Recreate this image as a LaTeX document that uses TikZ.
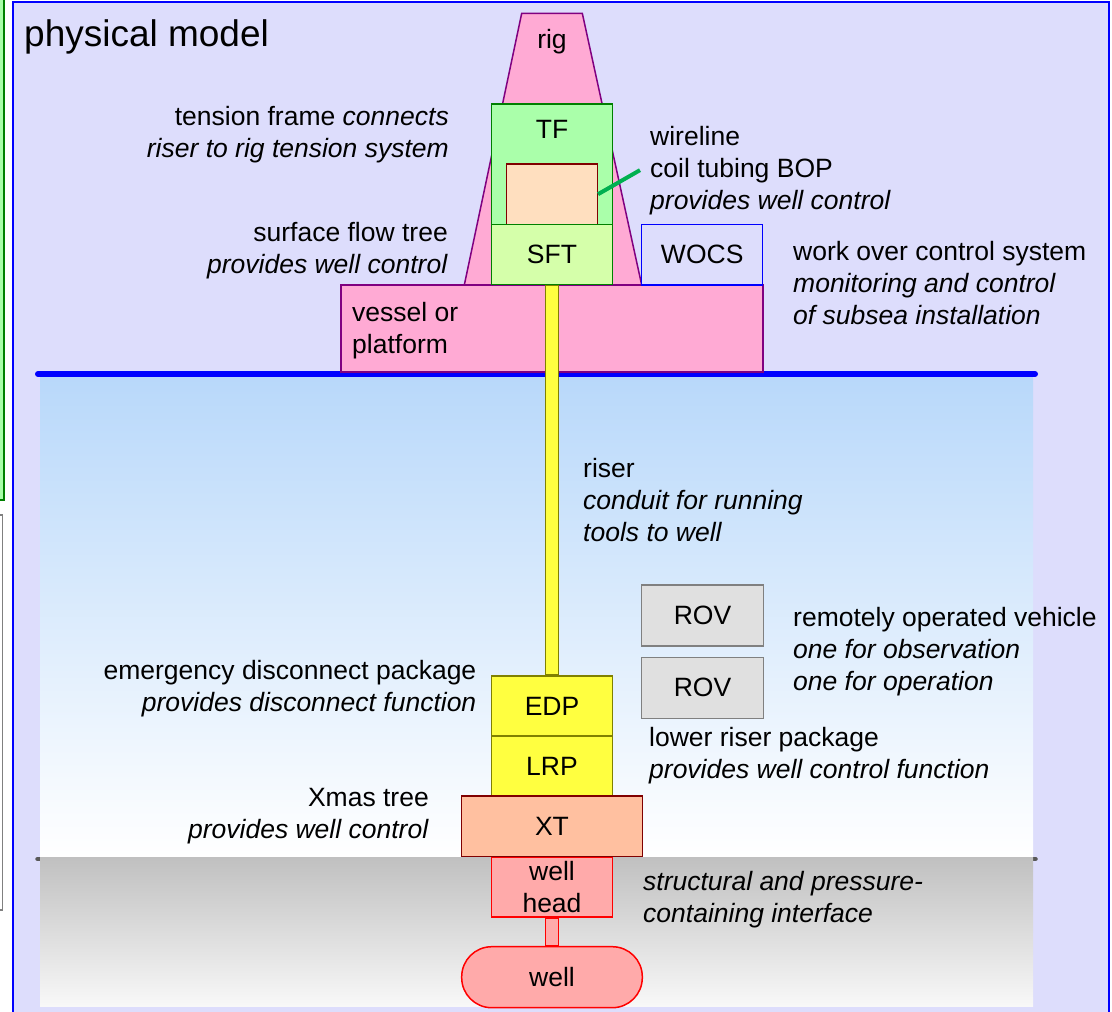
\documentclass[tikz,border=0pt]{standalone}
\usepackage{fontspec}
\setmainfont{Liberation Sans}
\usetikzlibrary{calc}

\definecolor{lavender}{RGB}{221,221,252}
\definecolor{seablue}{RGB}{184,216,250}
\definecolor{seabedtop}{RGB}{192,192,192}
\definecolor{seabedlow}{RGB}{248,248,248}
\definecolor{rigpink}{RGB}{255,170,212}
\definecolor{rigpurple}{RGB}{128,0,128}
\definecolor{tfgreen}{RGB}{170,255,170}
\definecolor{sftgreen}{RGB}{213,255,170}
\definecolor{darkgreen}{RGB}{0,128,0}
\definecolor{bopfill}{RGB}{255,223,191}
\definecolor{darkred}{RGB}{128,0,0}
\definecolor{pipeyellow}{RGB}{255,255,64}
\definecolor{pipeolive}{RGB}{128,128,0}
\definecolor{xtfill}{RGB}{255,192,160}
\definecolor{wellfill}{RGB}{255,170,170}
\definecolor{rovgray}{RGB}{224,224,224}
\definecolor{linkgreen}{RGB}{0,176,80}

\newcommand{\lblfont}{\fontsize{26.5}{32}\selectfont}
\newcommand{\titlefont}{\fontsize{37}{44}\selectfont}

\tikzset{
    part/.style={draw, line width=1.5pt, inner sep=0pt, font=\lblfont, align=center},
    txt/.style={inner sep=0pt, font=\lblfont},
    stack/.style={part, minimum width=120.6pt, minimum height=60.4pt},
}

\begin{document}
\begin{tikzpicture}[x=1pt, y=-1pt]
        \useasboundingbox (0,0) rectangle (1112,1012);
        \clip (0,0) rectangle (1112,1012);
        \draw[darkgreen, line width=2pt, fill=tfgreen] (-20,-20) rectangle (3.5,500);
        \draw[gray, line width=1.5pt, fill=white] (-20,515) rectangle (2.5,910);
        \draw[blue, line width=2pt, fill=lavender] (13.3,2) rectangle (1109.3,1040);
        \node[anchor=base west, inner sep=0pt, font=\titlefont] (title) at (24,46) {physical model};

        \shade[top color=seablue, bottom color=white] (40,375) rectangle (1033,857);
        \draw[black!65, line width=4.5pt, line cap=round] (37.5,859) -- (1035.5,859);
        \shade[top color=seabedtop, bottom color=seabedlow] (40,857) rectangle (1033,1006);
        \draw[blue, line width=6pt, line cap=round] (38,374) -- (1035,374);

        \draw[rigpurple, line width=1.5pt, fill=rigpink] (521.7,13.3) -- (582.3,13.3) -- (641.7,285) -- (464.3,285) -- cycle;
        \node[txt, anchor=base] (rig) at (552,48) {rig};
        \node[part, draw=rigpurple, fill=rigpink, minimum width=421.7pt, minimum height=87pt] (vessel) at (551.9,328.5) {};
        \node[txt, anchor=base west, align=left] (vessellbl) at (352,353) {vessel or\\platform};

        \node[part, draw=darkgreen, fill=tfgreen, minimum width=120.6pt, minimum height=120.3pt] (TF) at (552,164.2) {};
        \node[txt, anchor=base] (TFlbl) at (552,138) {TF};
        \node[part, draw=darkred, fill=bopfill, minimum width=90.6pt, minimum height=60.3pt] (bop) at (552,194.2) {};
        \node[stack, draw=darkgreen, fill=sftgreen] (SFT) at (552,254.5) {SFT};
        \node[part, draw=blue, fill=lavender, minimum width=121pt, minimum height=60.7pt] (WOCS) at (702.2,254.6) {WOCS};

        \node[stack, draw=red, fill=wellfill] (head) at (552,887) {well\\head};
        \node[part, draw=red, fill=wellfill, rounded corners=30pt, minimum width=180.6pt, minimum height=61pt] (well) at (552,977.2) {well};
        \draw[red, line width=1.5pt, fill=wellfill] ($(head.south)+(-6.3,0)$) rectangle ($(well.north)+(6.3,0)$);
        \node[stack, draw=pipeolive, fill=pipeyellow] (LRP) at (552,766) {LRP};
        \node[stack, draw=pipeolive, fill=pipeyellow] (EDP) at (552,706) {EDP};
        \node[part, draw=darkred, fill=xtfill, minimum width=180.6pt, minimum height=60.7pt] (XT) at (552,826.3) {XT};
        \draw[pipeolive, line width=1.5pt, fill=pipeyellow] ($(SFT.south)+(-6.3,0)$) rectangle ($(EDP.north)+(6.3,0)$);

        \foreach \y/\n in {615.5/1, 687.8/2} {
            \node[part, draw=gray, fill=rovgray, minimum width=121.6pt, minimum height=61pt] (rov\n) at (702.5,\y) {ROV};
        }

        \node[txt, anchor=base east, align=right] (tflbl) at (449,157) {tension frame \textit{connects}\\\textit{riser to rig tension system}};
        \node[txt, anchor=base west, align=left] (wl) at (650,209) {wireline\\coil tubing BOP\\\textit{provides well control}};
        \draw[linkgreen, line width=4pt] (bop.east) -- ($(wl.west)+(-10,0)$);
        \node[txt, anchor=base east, align=right] (sftlbl) at (448,273) {surface flow tree\\\textit{provides well control}};
        \node[txt, anchor=base west, align=left] (wocslbl) at (793,324) {work over control system\\\textit{monitoring and control}\\\textit{of subsea installation}};
        \node[txt, anchor=base west, align=left] (riserlbl) at (583,541) {riser\\\textit{conduit for running}\\\textit{tools to well}};
        \node[txt, anchor=base west, align=left] (rovlbl) at (793,690) {remotely operated vehicle\\\textit{one for observation}\\\textit{one for operation}};
        \node[txt, anchor=base east, align=right] (edplbl) at (476.5,711) {emergency disconnect package\\\textit{provides disconnect function}};
        \node[txt, anchor=base west, align=left] (lrplbl) at (649,778) {lower riser package\\\textit{provides well control function}};
        \node[txt, anchor=base east, align=right] (xtlbl) at (429,838) {Xmas tree\\\textit{provides well control}};
        \node[txt, anchor=base west, align=left] (headlbl) at (643,922) {\textit{structural and pressure-}\\\textit{containing interface}};
    \end{tikzpicture}
\end{document}
